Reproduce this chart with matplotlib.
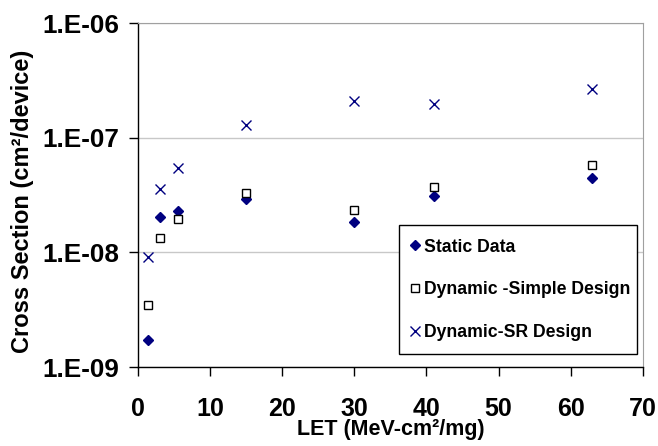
import matplotlib
matplotlib.use('Agg')
import matplotlib.pyplot as plt

# ---------------------------------------------------------------------------
# Data
# ---------------------------------------------------------------------------
let_vals = [1.4, 3.1, 5.6, 15, 30, 41, 63]
static_xs = [1.72e-9, 2.04e-8, 2.3e-8, 2.92e-8, 1.84e-8, 3.1e-8, 4.48e-8]
simple_xs = [3.46e-9, 1.34e-8, 1.95e-8, 3.32e-8, 2.34e-8, 3.74e-8, 5.78e-8]
sr_xs = [9.1e-9, 3.6e-8, 5.4e-8, 1.29e-7, 2.1e-7, 1.97e-7, 2.66e-7]

series_labels = ['Static Data', 'Dynamic -Simple Design', 'Dynamic-SR Design']
x_ticks = [0, 10, 20, 30, 40, 50, 60, 70]
y_ticks = [1e-9, 1e-8, 1e-7, 1e-6]
y_ticklabels = ['1.E-09', '1.E-08', '1.E-07', '1.E-06']

plt.rcParams['font.family'] = ['Liberation Sans', 'DejaVu Sans']
plt.rcParams['font.weight'] = 'bold'

NAVY = '#000080'

fig = plt.figure(figsize=(6.58, 4.46), dpi=100)
ax = fig.add_axes([0.2097, 0.1771, 0.7673, 0.7713])

ax.plot(let_vals, static_xs, ls='none', marker='D', ms=4.8, mfc=NAVY, mec=NAVY,
        label=series_labels[0], zorder=4)
ax.plot(let_vals, simple_xs, ls='none', marker='s', ms=6.0, mfc='white', mec='black',
        mew=1.0, label=series_labels[1], zorder=4)
ax.plot(let_vals, sr_xs, ls='none', marker='x', ms=6.5, mec=NAVY, mew=1.0,
        label=series_labels[2], zorder=4)

ax.set_yscale('log')
ax.set_xlim(0, 70)
ax.set_ylim(1e-9, 1e-6)
ax.set_xticks(x_ticks)
ax.set_xticklabels([str(t) for t in x_ticks])
ax.set_yticks(y_ticks)
ax.set_yticklabels(y_ticklabels)
ax.yaxis.set_minor_locator(matplotlib.ticker.NullLocator())

ax.grid(axis='y', color='#c8c8c8', lw=1.0)
ax.set_axisbelow(True)

for side in ('top', 'right'):
    ax.spines[side].set_color('#a0a0a0')
for side in ('left', 'bottom'):
    ax.spines[side].set_color('black')
    ax.spines[side].set_linewidth(1.0)

ax.tick_params(axis='both', direction='out', length=6.5, width=1.0, colors='black')
ax.tick_params(axis='x', pad=15, labelsize=18)
ax.tick_params(axis='y', pad=7, labelsize=18.8)

ax.set_xlabel('LET (MeV-cm\u00b2/mg)', fontsize=15.5, fontweight='bold', labelpad=-1)
ax.set_ylabel('Cross Section (cm\u00b2/device)', fontsize=17, fontweight='bold', labelpad=6)
ax.yaxis.label.set_y(0.481)

leg = ax.legend(loc='lower left', bbox_to_anchor=(0.517, 0.038, 0.471, 0.372),
                mode='expand', fancybox=False, edgecolor='black', framealpha=1,
                fontsize=12.7, handlelength=0.3, handletextpad=0.35,
                labelspacing=1.45, borderpad=0.75, borderaxespad=0)
leg.get_frame().set_linewidth(1.0)

plt.savefig('out.png', dpi=100)
